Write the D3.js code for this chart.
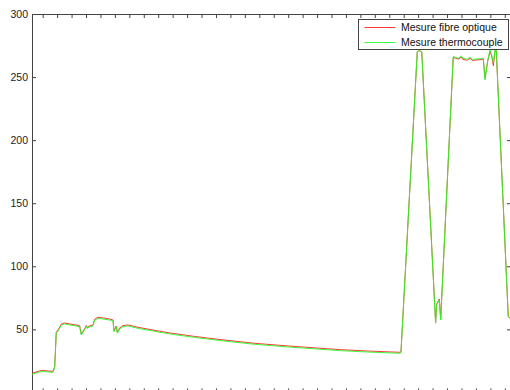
<!DOCTYPE html>
<html>
<head>
<meta charset="utf-8">
<script src="https://cdn.jsdelivr.net/npm/d3@7"></script>
<style>
    body { margin: 0; background: #fff; }
    svg { display: block; font-family: "Liberation Sans", Arial, sans-serif; }
</style>
</head>
<body>
<div id="chart"></div>
<script>
// Sample times (tick units)
const times = [0.26, 0.90, 1.71, 1.83, 1.94, 2.11, 2.29, 2.52, 3.56, 3.67, 3.90, 4.02, 4.10, 4.19, 4.48, 4.60,
    4.83, 5.64, 5.87, 5.94, 6.10, 6.17, 6.33, 6.56, 6.91, 7.60, 8.70, 9.82, 11.5, 13.5, 15.7, 18.0, 21.6, 23.5,
    25.74, 25.81, 26.94, 27.08, 27.25, 28.21, 28.28, 28.47, 28.56, 29.43, 29.6, 29.8, 30.0, 30.1, 30.4, 30.6,
    30.75, 31.0, 31.3, 31.51, 31.63, 31.82, 31.98, 32.09, 32.21, 32.32, 32.39, 33.24, 33.43];

// Fibre optic measurement (red)
const fibre = [15.2, 17.4, 16.7, 20.4, 47.6, 50.3, 54.2, 55.0, 52.9, 46.3, 50.2, 53.0, 51.2, 52.5, 53.4, 58.0,
    59.6, 58.2, 57.4, 48.9, 52.7, 47.7, 51.0, 52.9, 53.5, 51.6, 49.3, 47.1, 44.4, 41.6, 38.9, 36.8, 33.9, 32.8,
    31.8, 32.1, 270.0, 271.0, 270.0, 55.5, 70.0, 74.0, 58.0, 265.5, 264.8, 264.3, 265.8, 263.9, 263.4, 264.8,
    263.2, 263.5, 263.8, 264.2, 249.0, 262.8, 270.5, 266.8, 259.0, 270.5, 276.0, 60.0, 58.0];

// Thermocouple measurement (green)
const thermo = [14.4, 16.7, 15.9, 19.6, 46.9, 49.5, 53.4, 54.2, 52.1, 45.5, 49.5, 52.5, 50.5, 51.8, 52.6, 57.2,
    58.8, 57.4, 56.6, 48.1, 52.1, 46.9, 50.3, 52.1, 52.7, 50.8, 48.5, 46.3, 43.6, 40.8, 38.1, 36.0, 33.1, 32.0,
    31.0, 31.5, 270.0, 271.0, 270.0, 54.8, 69.3, 73.3, 57.4, 266.5, 265.5, 265.0, 266.8, 264.8, 264.2, 265.8,
    264.0, 264.3, 264.6, 265.0, 247.7, 263.6, 271.5, 267.6, 261.0, 271.5, 277.0, 60.0, 58.0];

// Axis ticks and legend labels
const xTicks = d3.range(1, 34);
const yTicks = [0, 50, 100, 150, 200, 250, 300];
const seriesNames = ["Mesure fibre optique", "Mesure thermocouple"];
const seriesColors = ["#ff2020", "#22ff22"];

// Function to draw the chart
function drawChart() {
    const width = 510, height = 390;
    const left = 32, right = 511, top = 14, bottom = 392.4;

    const svg = d3.select("#chart").append("svg")
        .attr("width", width)
        .attr("height", height);

    const x = d3.scaleLinear().domain([0.26, 33.43]).range([left, right]);
    const y = d3.scaleLinear().domain([0, 300]).range([bottom, top]);

    // Axes on all four sides, ticks pointing inward
    // (the 0 label sits below the visible area, so it is left blank)
    const axisColor = "#444";
    const axes = [
        svg.append("g").attr("transform", `translate(0,${top})`)
            .call(d3.axisTop(x).tickValues(xTicks).tickSizeInner(-4).tickSizeOuter(0).tickFormat("")),
        svg.append("g").attr("transform", `translate(0,${bottom})`)
            .call(d3.axisBottom(x).tickValues(xTicks).tickSizeInner(-4).tickSizeOuter(0).tickFormat("")),
        svg.append("g").attr("transform", `translate(${left},0)`)
            .call(d3.axisLeft(y).tickValues(yTicks).tickSizeInner(-4).tickSizeOuter(0).tickPadding(4)
                .tickFormat(d => d === 0 ? "" : d)),
        svg.append("g").attr("transform", `translate(${right},0)`)
            .call(d3.axisRight(y).tickValues(yTicks).tickSizeInner(-4).tickSizeOuter(0).tickFormat(""))
    ];
    axes.forEach(g => {
        g.selectAll("path, line").attr("stroke", axisColor);
        g.selectAll("text").attr("fill", "#222").style("font-size", "10.5px")
            .style("font-family", "'Liberation Sans', Arial, sans-serif");
    });

    // Clip the lines to the plot box
    svg.append("clipPath").attr("id", "plotClip")
        .append("rect")
        .attr("x", left).attr("y", top)
        .attr("width", right - left).attr("height", bottom - top);

    const line = d3.line()
        .x((d, i) => x(times[i]))
        .y(d => y(d));

    [fibre, thermo].forEach((values, i) => {
        svg.append("path")
            .datum(values)
            .attr("clip-path", "url(#plotClip)")
            .attr("fill", "none")
            .attr("stroke", seriesColors[i])
            .attr("stroke-width", 0.9)
            .attr("stroke-linejoin", "round")
            .attr("d", line);
    });

    // Legend box in the top right corner
    const legend = svg.append("g").attr("transform", "translate(358.5,19.5)");
    legend.append("rect")
        .attr("width", 150)
        .attr("height", 30)
        .attr("fill", "#fff")
        .attr("stroke", axisColor);

    seriesNames.forEach((name, i) => {
        const ly = 8 + i * 15;
        legend.append("line")
            .attr("x1", 6).attr("x2", 37)
            .attr("y1", ly).attr("y2", ly)
            .attr("stroke", seriesColors[i])
            .attr("stroke-width", 0.9);
        legend.append("text")
            .attr("x", 42.5)
            .attr("y", ly)
            .attr("dy", "0.35em")
            .attr("fill", "#111")
            .style("font-size", "10.5px")
            .text(name);
    });
}

drawChart();
</script>
</body>
</html>
